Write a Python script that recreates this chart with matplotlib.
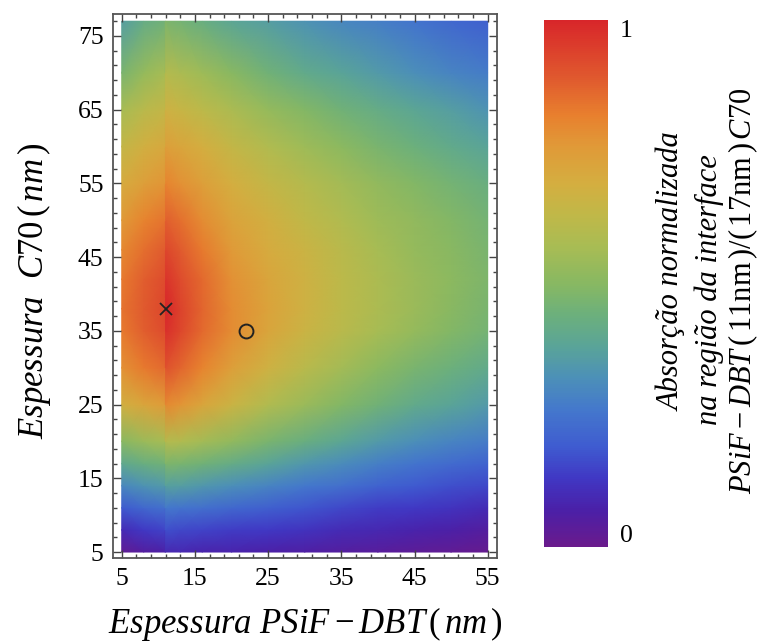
import numpy as np
import matplotlib
matplotlib.use("Agg")
import matplotlib.pyplot as plt
from matplotlib.colors import LinearSegmentedColormap
from matplotlib.ticker import FixedLocator

plt.rcParams["font.family"] = ["Liberation Serif", "DejaVu Serif"]
plt.rcParams["mathtext.fontset"] = "custom"
plt.rcParams["mathtext.rm"] = "Liberation Serif"
plt.rcParams["mathtext.it"] = "Liberation Serif:italic"

# Thickness grid (nm): PSiF-DBT along x, C70 along y
psif_dbt = [5, 8, 10.95, 11, 13, 16, 20, 25, 30, 35, 40, 45, 50, 55]
c70 = [5, 8, 11, 14, 17, 20, 25, 30, 35, 38, 42, 46, 50, 55, 60, 65, 70, 77]

# Normalized interface absorption, one row per C70 thickness
absorption = [
    [0.02, 0.05, 0.07, 0.09, 0.09, 0.08, 0.08, 0.07, 0.06, 0.05, 0.04, 0.03, 0.02, 0.01],
    [0.10, 0.13, 0.15, 0.17, 0.16, 0.15, 0.14, 0.13, 0.12, 0.10, 0.09, 0.08, 0.07, 0.05],
    [0.19, 0.22, 0.24, 0.26, 0.25, 0.24, 0.22, 0.20, 0.18, 0.16, 0.14, 0.13, 0.12, 0.10],
    [0.30, 0.33, 0.35, 0.37, 0.36, 0.34, 0.32, 0.29, 0.26, 0.24, 0.21, 0.19, 0.17, 0.16],
    [0.40, 0.43, 0.45, 0.48, 0.47, 0.45, 0.42, 0.38, 0.34, 0.31, 0.28, 0.25, 0.23, 0.21],
    [0.50, 0.54, 0.57, 0.60, 0.59, 0.56, 0.52, 0.47, 0.43, 0.39, 0.35, 0.32, 0.29, 0.27],
    [0.68, 0.72, 0.75, 0.80, 0.77, 0.72, 0.66, 0.59, 0.54, 0.49, 0.45, 0.41, 0.38, 0.35],
    [0.78, 0.83, 0.86, 0.91, 0.87, 0.81, 0.74, 0.67, 0.61, 0.56, 0.51, 0.47, 0.44, 0.41],
    [0.83, 0.88, 0.92, 0.98, 0.93, 0.86, 0.79, 0.72, 0.66, 0.61, 0.57, 0.53, 0.49, 0.46],
    [0.84, 0.89, 0.93, 1.00, 0.94, 0.87, 0.79, 0.73, 0.67, 0.62, 0.58, 0.54, 0.50, 0.47],
    [0.83, 0.88, 0.92, 0.97, 0.92, 0.86, 0.78, 0.72, 0.67, 0.62, 0.58, 0.54, 0.51, 0.48],
    [0.80, 0.85, 0.89, 0.93, 0.89, 0.83, 0.76, 0.70, 0.66, 0.61, 0.57, 0.53, 0.50, 0.47],
    [0.76, 0.81, 0.84, 0.88, 0.85, 0.79, 0.73, 0.68, 0.63, 0.59, 0.55, 0.52, 0.49, 0.46],
    [0.70, 0.74, 0.77, 0.81, 0.78, 0.74, 0.69, 0.64, 0.60, 0.56, 0.52, 0.49, 0.46, 0.43],
    [0.64, 0.68, 0.71, 0.74, 0.72, 0.69, 0.64, 0.59, 0.55, 0.51, 0.47, 0.44, 0.41, 0.38],
    [0.57, 0.61, 0.64, 0.67, 0.65, 0.62, 0.58, 0.53, 0.49, 0.45, 0.42, 0.39, 0.36, 0.33],
    [0.47, 0.53, 0.57, 0.60, 0.58, 0.55, 0.50, 0.45, 0.41, 0.38, 0.35, 0.32, 0.29, 0.27],
    [0.36, 0.42, 0.45, 0.48, 0.46, 0.43, 0.39, 0.36, 0.33, 0.30, 0.28, 0.25, 0.22, 0.20],
]

# Highlighted configurations
best_point = (11, 38)
device_point = (22, 35)

x_ticks = [5, 15, 25, 35, 45, 55]
y_ticks = [5, 15, 25, 35, 45, 55, 65, 75]

rainbow = LinearSegmentedColormap.from_list("rainbow_like", [
    (0.00, "#6a1a8c"),
    (0.07, "#4a20a8"),
    (0.13, "#4038c4"),
    (0.19, "#3f5cd0"),
    (0.26, "#4478cc"),
    (0.32, "#4c90b8"),
    (0.38, "#5aa498"),
    (0.44, "#6cb07c"),
    (0.50, "#88b862"),
    (0.57, "#a8bc54"),
    (0.63, "#c0b848"),
    (0.69, "#d4ae40"),
    (0.76, "#e09a38"),
    (0.82, "#e8802e"),
    (0.89, "#e05a2e"),
    (1.00, "#d8262a"),
])

W, H = 762, 644
fig = plt.figure(figsize=(W / 100, H / 100), dpi=100)


def fx(px):
    return px / W


def fy(py):
    return 1 - py / H


ax = fig.add_axes([fx(113.3), fy(558.3), 383.4 / W, 544.3 / H])
X, Y = np.meshgrid(psif_dbt, c70)
mesh = ax.pcolormesh(X, Y, np.array(absorption), shading="gouraud",
                     cmap=rainbow, vmin=0, vmax=1)

ax.plot(*best_point, marker="x", color="#222222", ms=9, mew=1.3, ls="none")
ax.plot(*device_point, marker="o", mfc="none", mec="#222222", ms=10, mew=1.4, ls="none")

ax.set_xlim(3.85, 56.23)
ax.set_ylim(4.15, 77.98)
ax.xaxis.set_major_locator(FixedLocator(x_ticks))
ax.yaxis.set_major_locator(FixedLocator(y_ticks))
ax.xaxis.set_minor_locator(FixedLocator(np.arange(5, 57, 2)))
ax.yaxis.set_minor_locator(FixedLocator(np.arange(5, 78, 2)))
ax.tick_params(which="both", direction="in", top=True, right=True,
               color="#444444", labelsize=18.5, width=1.0)
ax.tick_params(which="major", length=6, pad=7)
ax.tick_params(which="minor", length=3)
for sp in ax.spines.values():
    sp.set_color("#555555")
    sp.set_linewidth(1.3)

label_kw = dict(rotation_mode="anchor", ha="center", va="baseline")
fig.text(fx(305), fy(633),
         r"$\mathit{Espessura\ PSiF}-\mathit{DBT}\,\mathrm{(}\,\mathit{nm}\,\mathrm{)}$",
         fontsize=25, **label_kw)
fig.text(fx(43), fy(291),
         r"$\mathit{Espessura\ \ C70}\,\mathrm{(}\,\mathit{nm}\,\mathrm{)}$",
         fontsize=25, rotation=90, **label_kw)

cax = fig.add_axes([fx(544), fy(547), 64 / W, 527 / H])
cb = fig.colorbar(mesh, cax=cax)
cb.outline.set_visible(False)
cax.set_yticks([])
cax.text(1.19, 1.0, "1", transform=cax.transAxes, fontsize=18.5, ha="left", va="top")
cax.text(1.19, 0.0, "0", transform=cax.transAxes, fontsize=18.5, ha="left", va="bottom")

fig.text(fx(680), fy(272), "Absorção normalizada", fontsize=22, style="italic",
         rotation=90, **label_kw)
fig.text(fx(717), fy(290), "na região da interface", fontsize=22, style="italic",
         rotation=90, **label_kw)
fig.text(fx(751), fy(291),
         r"$\mathit{PSiF}-\mathit{DBT}\,\mathrm{(}\,\mathrm{11nm}\,\mathrm{)/(}\,\mathrm{17nm}\,\mathrm{)}\,\mathit{C70}$",
         fontsize=22, rotation=90, **label_kw)

fig.savefig("out.png", dpi=100)
